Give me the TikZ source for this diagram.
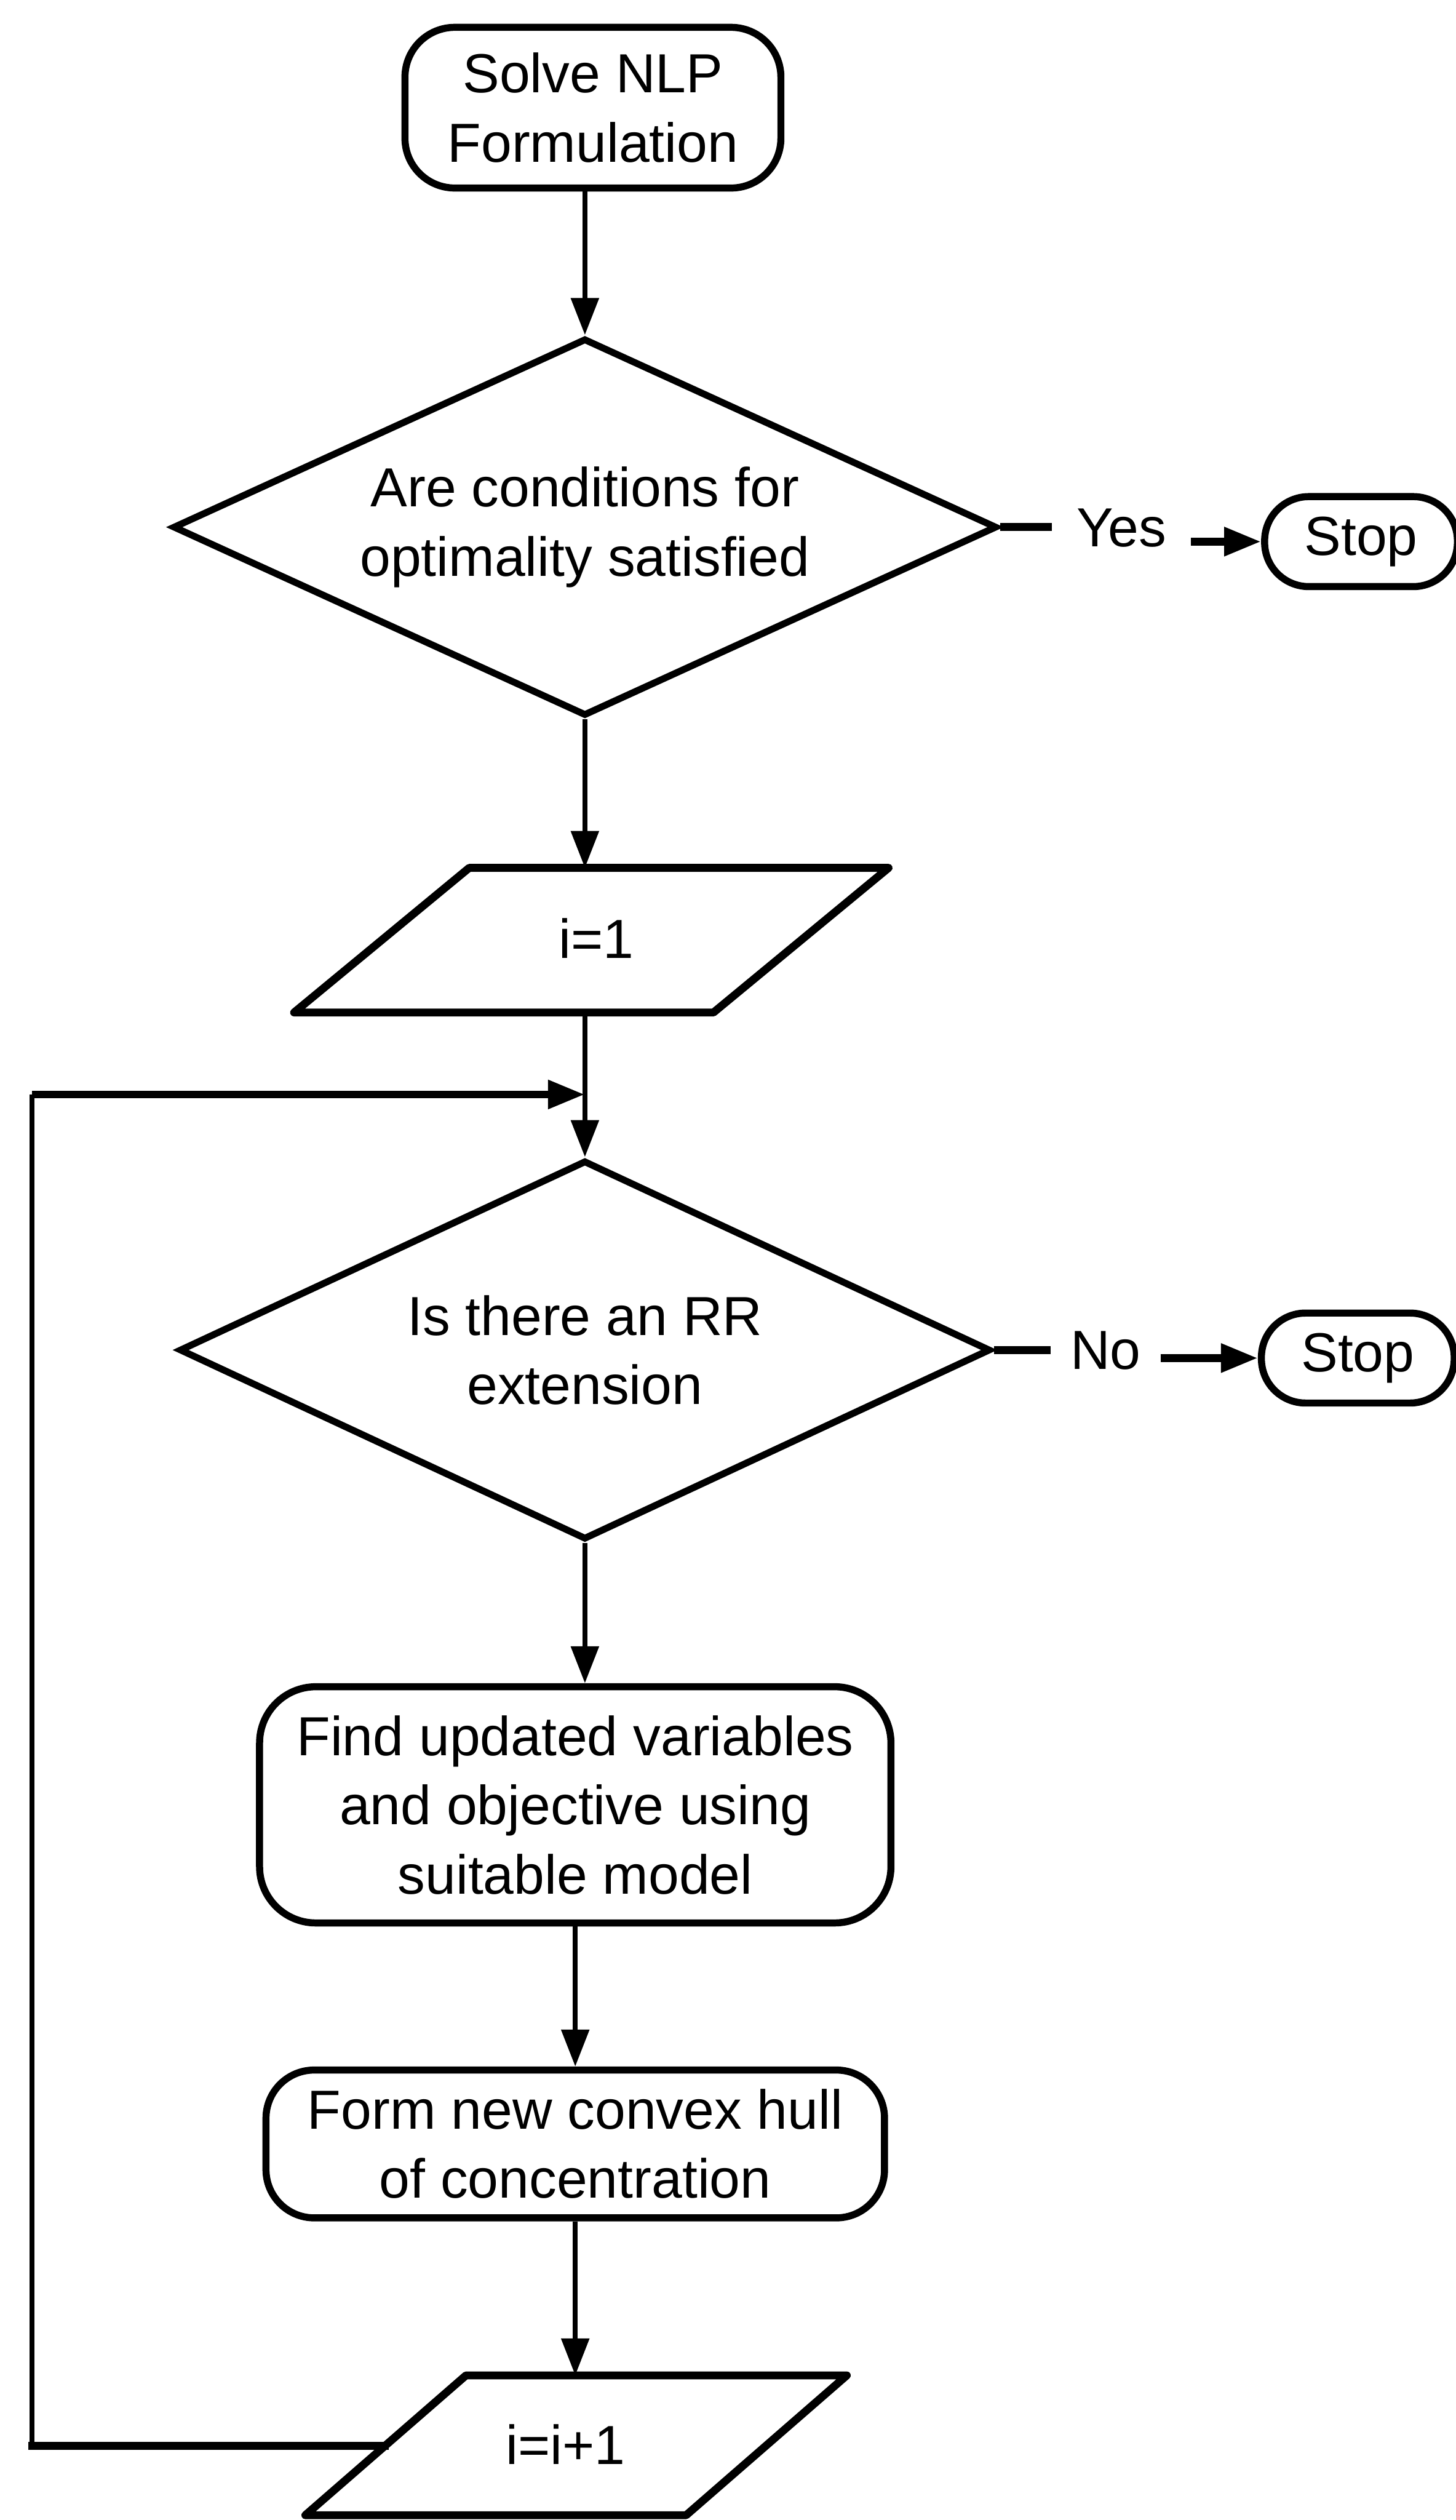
\documentclass[tikz,border=0pt]{standalone}
\usepackage{fontspec}
\setmainfont{Liberation Sans}
\usetikzlibrary{arrows.meta,shapes.geometric}

\begin{document}
\begin{tikzpicture}[x=0.02cm,y=-0.02cm,
  txt/.style={font=\fontsize{19.5}{24.5}\selectfont, align=center},
  box/.style={txt, draw, line width=2.5pt, rounded corners=#1, inner sep=0pt},
  box/.default=0.7cm,
  decision/.style={txt, draw, diamond, aspect=2.2, line width=2.4pt, inner sep=0pt},
  terminal/.style={txt, draw, line width=2.5pt, rounded corners=0.55cm,
    minimum width=2.4cm, minimum height=1.12cm, inner sep=0pt},
  tip/.style={-{Triangle[length=0.46cm,width=0.34cm]}},
  vflow/.style={line width=1.7pt, tip},
  hline/.style={line width=2.8pt},
  hflow/.style={hline, tip},
  vline/.style={line width=1.8pt},
  iobox/.style={line width=2.8pt, line join=round},
]
\useasboundingbox (0,0) rectangle (906,1568);

% start
\node[box=0.62cm, minimum width=4.68cm, minimum height=2cm] (start) at (369,67)
  {Solve NLP\\Formulation};

% first decision
\node[decision, minimum width=10.26cm, minimum height=4.7cm] (d1) at (364,328)
  {Are conditions for\\optimality satisfied};
\node[txt, anchor=base, inner xsep=0.3cm, inner ysep=0pt] (yes) at (698,340) {Yes};
\node[terminal] (stop1) at (847,337) {Stop};

% initialisation
\draw[iobox] (292,540) -- (553,540) -- (444,630) -- (183,630) -- cycle;
\node[txt] (init) at (371,584) {i=1};
\coordinate (p1n) at (364,540);
\coordinate (p1s) at (364,630);

% second decision
\node[decision, minimum width=10.1cm, minimum height=4.72cm] (d2) at (364,840)
  {Is there an RR\\extension};
\node[txt, anchor=base, inner xsep=0.24cm, inner ysep=0pt] (no) at (688,852) {No};
\node[terminal] (stop2) at (845,845) {Stop};

% processing steps
\node[box=0.7cm, minimum width=7.86cm, minimum height=2.94cm] (upd) at (358,1123)
  {Find updated variables\\and objective using\\suitable model};
\node[box=0.6cm, minimum width=7.7cm, minimum height=1.84cm] (hull) at (358,1334)
  {Form new convex hull\\of concentration};

% increment
\draw[iobox] (290,1478) -- (527,1478) -- (427,1565) -- (190,1565) -- cycle;
\node[txt] (incr) at (352,1521) {i=i+1};
\coordinate (p2n) at (358,1478);
\coordinate (p2w) at (239.4,1522);

% loop-back route
\coordinate (lbot) at (20,1522);
\coordinate (ltop) at (20,681);
\coordinate (merge) at (364,681);

% connectors
\draw[vflow] (d1.north |- start.south) -- (d1.north);
\draw[hline] (d1.east) -- (d1.east -| yes.west);
\draw[hflow] (yes.east |- stop1.west) -- (stop1.west);
\draw[vflow] (d1.south) -- (p1n);
\draw[vflow] (p1s) -- (d2.north);
\draw[hline] (d2.east) -- (d2.east -| no.west);
\draw[hflow] (no.east |- stop2.west) -- (stop2.west);
\draw[vflow] (d2.south) -- (d2.south |- upd.north);
\draw[vflow] (upd.south) -- (hull.north);
\draw[vflow] (hull.south) -- (p2n);
\draw[hline, line cap=rect] (p2w) -- (lbot);
\draw[vline] (lbot) -- (ltop);
\draw[hflow] (ltop) -- (merge);
\end{tikzpicture}
\end{document}
